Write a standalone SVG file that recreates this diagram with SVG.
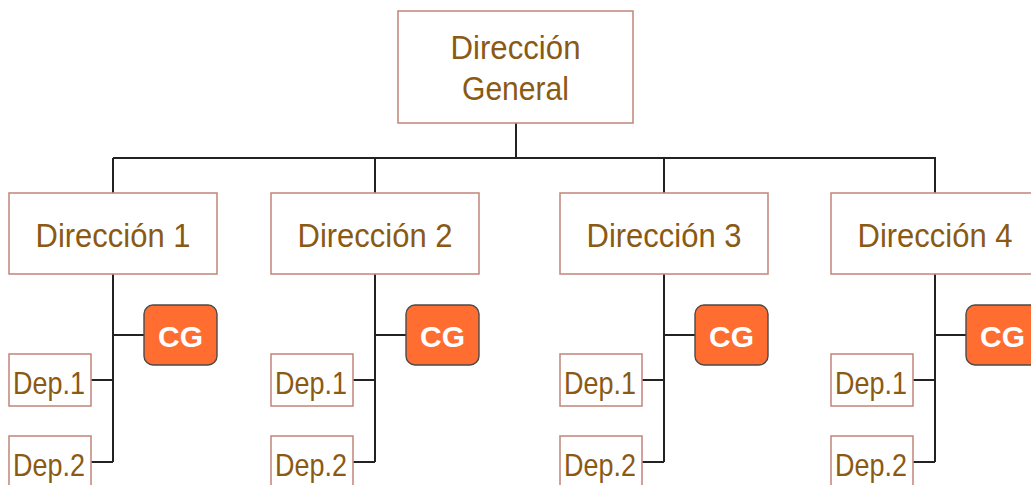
<svg xmlns="http://www.w3.org/2000/svg" width="1031" height="485" viewBox="0 0 1031 485">
  <style>
    .box { fill: #ffffff; stroke: #c48d80; stroke-width: 1.6; }
    .cg { fill: #ff6d31; stroke: #4a4a4a; stroke-width: 1.4; }
    .lbl { font-family: "Liberation Sans", Arial, sans-serif; fill: #8a5a14; text-anchor: middle; }
    .cgt { font-family: "Liberation Sans", Arial, sans-serif; font-weight: bold; fill: #ffffff; text-anchor: middle; font-size: 30px; }
    .wire { fill: none; stroke: #222222; stroke-width: 2; }
  </style>
  <rect width="1031" height="485" fill="#ffffff"/>

  <!-- connectors -->
  <g id="connectors">
    <path class="wire" d="M516 123 V158 M113 158 H936 M113 158 V193 M375 158 V193 M664 158 V193 M935 158 V193"/>
    <!-- branch 1 -->
    <path class="wire" d="M113 274 V462 M113 335 H144 M91 380 H113 M91 462 H113"/>
    <!-- branch 2 -->
    <path class="wire" d="M375 274 V462 M375 335 H406 M353 380 H375 M353 462 H375"/>
    <!-- branch 3 -->
    <path class="wire" d="M664 274 V462 M664 335 H695 M642 380 H664 M642 462 H664"/>
    <!-- branch 4 -->
    <path class="wire" d="M935 274 V462 M935 335 H966 M913 380 H935 M913 462 H935"/>
  </g>

  <g id="direccion-general">
    <rect class="box" x="398" y="11" width="235" height="112"/>
    <text class="lbl" x="515.5" y="59" font-size="33" textLength="130" lengthAdjust="spacingAndGlyphs">Dirección</text>
    <text class="lbl" x="515.5" y="100" font-size="33" textLength="107" lengthAdjust="spacingAndGlyphs">General</text>
  </g>

  <g id="direccion-1">
    <rect class="box" x="9" y="193" width="208" height="81"/>
    <text class="lbl" x="113" y="247" font-size="33" textLength="155" lengthAdjust="spacingAndGlyphs">Dirección 1</text>
  </g>
  <g id="cg-1">
    <rect class="cg" x="144" y="305" width="73" height="60" rx="9"/>
    <text class="cgt" x="180.5" y="347">CG</text>
  </g>
  <g id="dep-1-1">
    <rect class="box" x="9" y="354" width="82" height="52"/>
    <text class="lbl" x="49" y="394" font-size="32" textLength="72" lengthAdjust="spacingAndGlyphs">Dep.1</text>
  </g>
  <g id="dep-1-2">
    <rect class="box" x="9" y="436" width="82" height="52"/>
    <text class="lbl" x="49" y="476" font-size="32" textLength="72" lengthAdjust="spacingAndGlyphs">Dep.2</text>
  </g>

  <g id="direccion-2">
    <rect class="box" x="271" y="193" width="208" height="81"/>
    <text class="lbl" x="375" y="247" font-size="33" textLength="155" lengthAdjust="spacingAndGlyphs">Dirección 2</text>
  </g>
  <g id="cg-2">
    <rect class="cg" x="406" y="305" width="73" height="60" rx="9"/>
    <text class="cgt" x="442.5" y="347">CG</text>
  </g>
  <g id="dep-2-1">
    <rect class="box" x="271" y="354" width="82" height="52"/>
    <text class="lbl" x="311" y="394" font-size="32" textLength="72" lengthAdjust="spacingAndGlyphs">Dep.1</text>
  </g>
  <g id="dep-2-2">
    <rect class="box" x="271" y="436" width="82" height="52"/>
    <text class="lbl" x="311" y="476" font-size="32" textLength="72" lengthAdjust="spacingAndGlyphs">Dep.2</text>
  </g>

  <g id="direccion-3">
    <rect class="box" x="560" y="193" width="208" height="81"/>
    <text class="lbl" x="664" y="247" font-size="33" textLength="155" lengthAdjust="spacingAndGlyphs">Dirección 3</text>
  </g>
  <g id="cg-3">
    <rect class="cg" x="695" y="305" width="73" height="60" rx="9"/>
    <text class="cgt" x="731.5" y="347">CG</text>
  </g>
  <g id="dep-3-1">
    <rect class="box" x="560" y="354" width="82" height="52"/>
    <text class="lbl" x="600" y="394" font-size="32" textLength="72" lengthAdjust="spacingAndGlyphs">Dep.1</text>
  </g>
  <g id="dep-3-2">
    <rect class="box" x="560" y="436" width="82" height="52"/>
    <text class="lbl" x="600" y="476" font-size="32" textLength="72" lengthAdjust="spacingAndGlyphs">Dep.2</text>
  </g>

  <g id="direccion-4">
    <rect class="box" x="831" y="193" width="208" height="81"/>
    <text class="lbl" x="935" y="247" font-size="33" textLength="155" lengthAdjust="spacingAndGlyphs">Dirección 4</text>
  </g>
  <g id="cg-4">
    <rect class="cg" x="966" y="305" width="73" height="60" rx="9"/>
    <text class="cgt" x="1002.5" y="347">CG</text>
  </g>
  <g id="dep-4-1">
    <rect class="box" x="831" y="354" width="82" height="52"/>
    <text class="lbl" x="871" y="394" font-size="32" textLength="72" lengthAdjust="spacingAndGlyphs">Dep.1</text>
  </g>
  <g id="dep-4-2">
    <rect class="box" x="831" y="436" width="82" height="52"/>
    <text class="lbl" x="871" y="476" font-size="32" textLength="72" lengthAdjust="spacingAndGlyphs">Dep.2</text>
  </g>
</svg>
